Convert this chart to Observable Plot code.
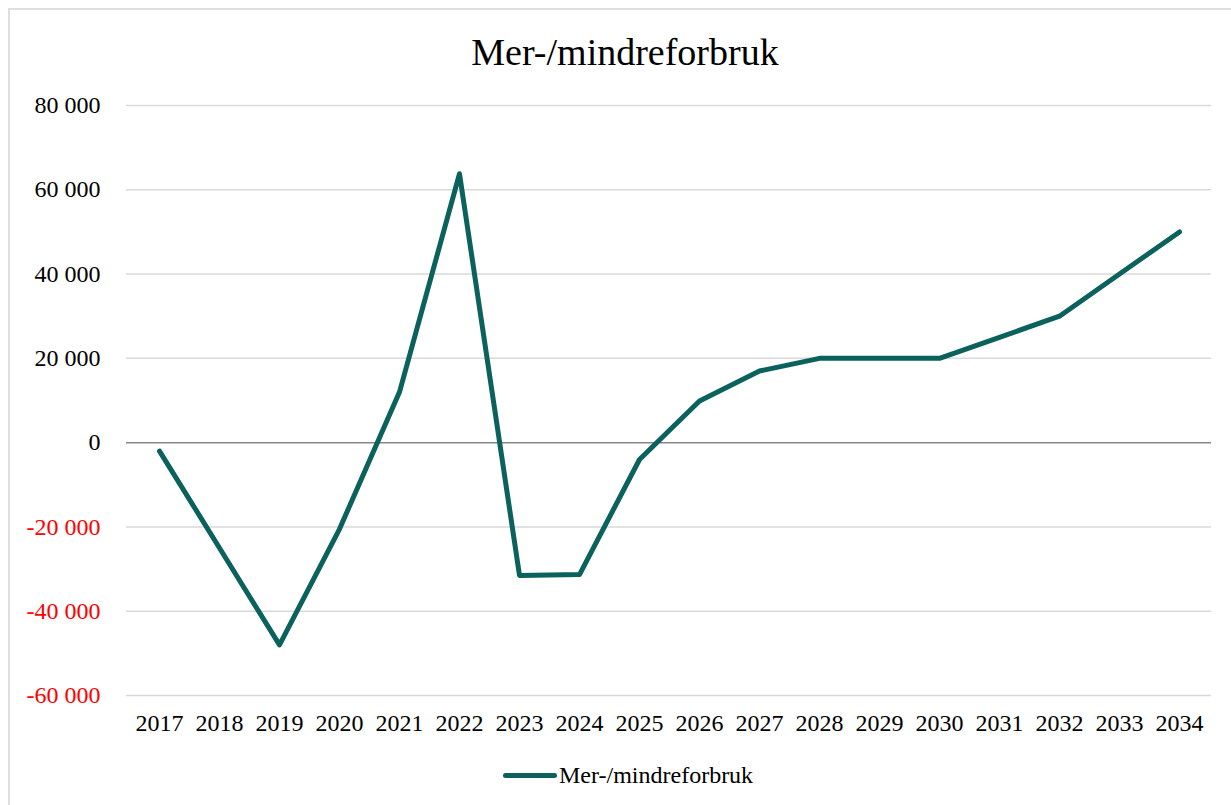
<!DOCTYPE html>
<html>
<head>
<meta charset="utf-8">
<script src="https://cdn.jsdelivr.net/npm/d3@7"></script>
<script src="https://cdn.jsdelivr.net/npm/@observablehq/plot@0.6"></script>
<style>
  html, body { margin: 0; padding: 0; background: #fff; }
  body { width: 1231px; height: 805px; position: relative; overflow: hidden;
         font-family: "Liberation Serif", "Times New Roman", serif; }
  #frame { position: absolute; left: 8px; top: 8px; width: 1240px; height: 820px;
           border-top: 2px solid #dedede; border-left: 2px solid #dedede; box-sizing: border-box; }
  #title { position: absolute; top: 30px; left: 625px; transform: translateX(-50%);
           font-size: 38px; white-space: nowrap; color: #000; line-height: 44px; }
  #chart { position: absolute; left: 0; top: 80px; }
  #legend { position: absolute; top: 760px; left: 503px; height: 30px; display: flex; align-items: center;
            font-size: 24px; color: #000; white-space: nowrap; }
  #legend .sw { width: 54px; height: 5px; border-radius: 3px; background: #0b625d; margin-right: 2px; }
</style>
</head>
<body>
<div id="frame"></div>
<div id="title">Mer-/mindreforbruk</div>
<div id="chart"></div>
<div id="legend"><span class="sw"></span><span>Mer-/mindreforbruk</span></div>
<script>
const years = ["2017","2018","2019","2020","2021","2022","2023","2024","2025","2026","2027","2028","2029","2030","2031","2032","2033","2034"];
const values = [-2000, -25000, -48000, -20500, 12000, 63800, -31500, -31300, -4000, 9900, 17000, 20000, 20000, 20000, 25000, 30000, 40000, 50000];
const yTicks = [-60000, -40000, -20000, 0, 20000, 40000, 60000, 80000];
const seriesName = "Mer-/mindreforbruk";

const data = years.map((year, i) => ({year, value: values[i]}));
const locale = d3.formatLocale({decimal: ",", thousands: " ", grouping: [3], currency: ["", ""], minus: "-"});
const fmt = locale.format(",d");

const teal = "#0b625d";

const chart = Plot.plot({
  width: 1231,
  height: 670,
  marginTop: 25,
  marginBottom: 55,
  marginLeft: 126,
  marginRight: 20,
  style: {fontFamily: "'Liberation Serif', 'Times New Roman', serif", fontSize: "24px", background: "transparent", overflow: "visible"},
  x: {type: "point", domain: years, padding: 0.5, label: null},
  y: {domain: [-60000, 80000], label: null},
  marks: [
    Plot.gridY(yTicks.filter(d => d !== 0), {stroke: "#d9d9d9", strokeOpacity: 1, strokeWidth: 1.5}),
    Plot.ruleY([0], {stroke: "#878787", strokeWidth: 1.5}),
    Plot.axisY(yTicks.filter(d => d >= 0), {tickSize: 0, tickPadding: 26, tickFormat: fmt, fill: "#000", label: null}),
    Plot.axisY(yTicks.filter(d => d < 0), {tickSize: 0, tickPadding: 26, tickFormat: fmt, fill: "#ff0000", label: null}),
    Plot.axisX(years, {tickSize: 0, tickPadding: 18, fill: "#000", label: null}),
    Plot.line(data, {x: "year", y: "value", stroke: teal, strokeWidth: 5, strokeLinecap: "round", strokeLinejoin: "round"})
  ]
});
document.getElementById("chart").appendChild(chart);
</script>
</body>
</html>
